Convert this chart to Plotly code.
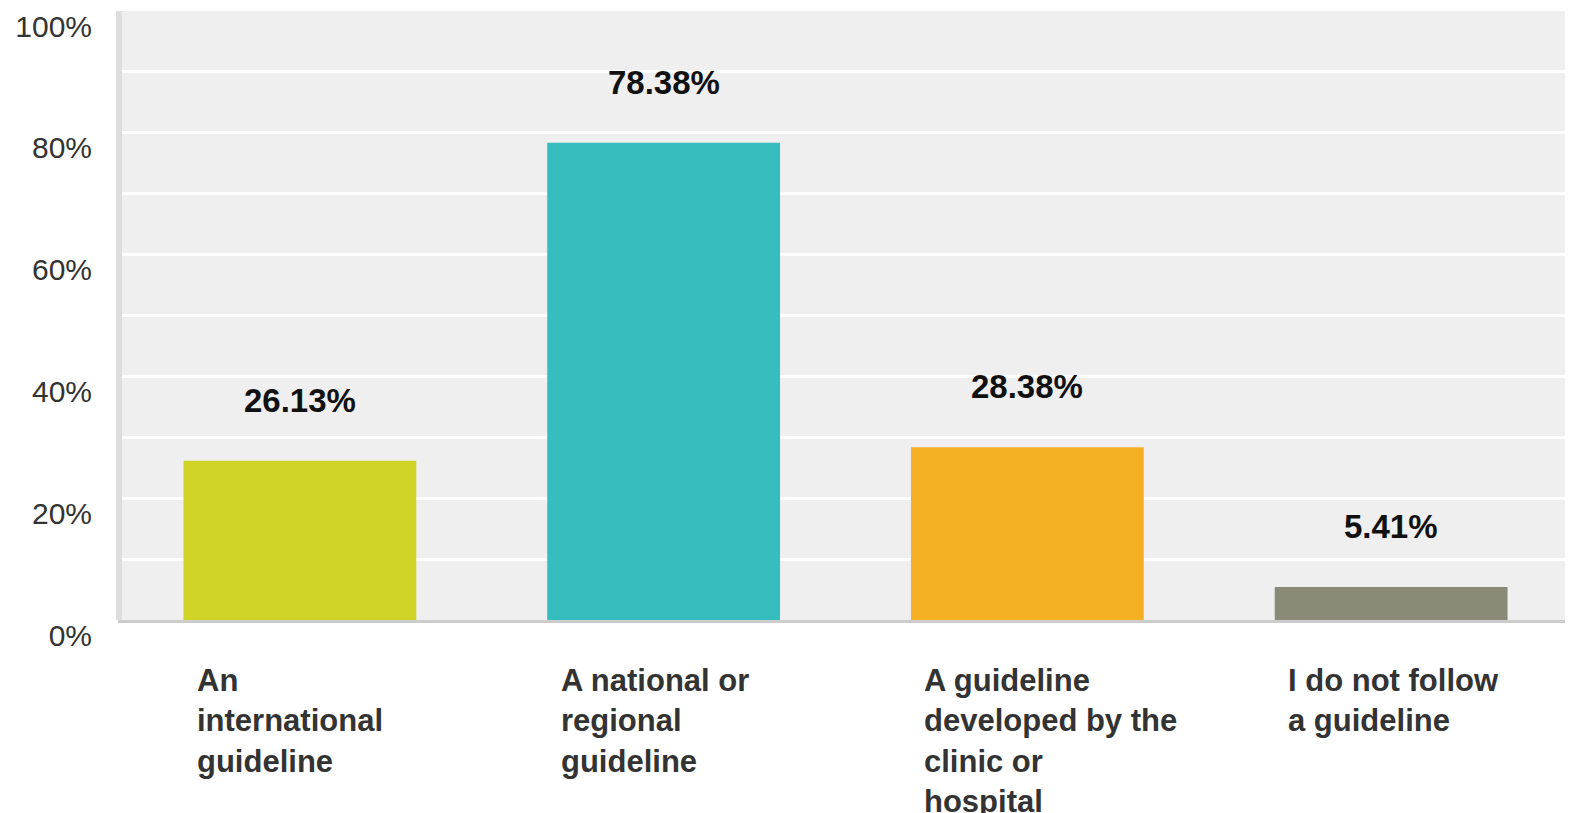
import plotly.graph_objects as go

categories = ["An<br>international<br>guideline",
              "A national or<br>regional<br>guideline",
              "A guideline<br>developed by the<br>clinic or<br>hospital",
              "I do not follow<br>a guideline"]
values = [26.13, 78.38, 28.38, 5.41]
value_labels = ["26.13%", "78.38%", "28.38%", "5.41%"]
bar_colors = ["#CFD426", "#35BDBF", "#F5AF22", "#8A8A78"]
y_ticks = [0, 20, 40, 60, 80, 100]
y_tick_labels = ["0%", "20%", "40%", "60%", "80%", "100%"]

xs = list(range(len(categories)))

fig = go.Figure()
fig.add_trace(go.Bar(x=xs, y=values, marker=dict(color=bar_colors, line=dict(width=0)),
                     width=0.64, hoverinfo="skip"))

for x, v, lab in zip(xs, values, value_labels):
    fig.add_annotation(x=x, y=v, xref="x", yref="y", text=f"<b>{lab}</b>",
                       showarrow=False, yanchor="bottom", yshift=40,
                       font=dict(family="Liberation Sans, Arial", size=33, color="#111111"))

for x, c in zip(xs, categories):
    fig.add_annotation(x=x, y=0, xref="x", yref="paper", text=f"<b>{c}</b>",
                       showarrow=False, xanchor="left", yanchor="top", align="left",
                       xshift=-105, yshift=-41,
                       font=dict(family="Liberation Sans, Arial", size=31, color="#333333"))

# left axis strip drawn at the plot's left edge
fig.add_shape(type="rect", xref="paper", yref="paper", xsizemode="pixel", xanchor=0,
              x0=-2, x1=4, y0=0, y1=1, fillcolor="#DEDEDE", line=dict(width=0), layer="above")

fig.update_layout(
    width=1565, height=805,
    margin=dict(l=110, r=0, t=3, b=193, autoexpand=False),
    paper_bgcolor="white", plot_bgcolor="#EFEFEF",
    showlegend=False,
    bargap=0.36,
)
fig.update_xaxes(range=[-0.5, 3.5], showticklabels=False, showgrid=False, zeroline=False,
                 showline=True, linecolor="#CCCCCC", linewidth=3, ticks="", automargin=False)
fig.update_yaxes(range=[0, 100], tickvals=y_ticks, ticktext=y_tick_labels,
                 showgrid=True, gridcolor="white", gridwidth=3, zeroline=False,
                 minor=dict(dtick=10, showgrid=True, gridcolor="white", gridwidth=3),
                 showline=False, ticks="",
                 ticklabelshift=15, ticklabelstandoff=25, ticklabeloverflow="allow",
                 automargin=False,
                 tickfont=dict(family="Liberation Sans, Arial", size=30, color="#333333"))

fig.write_html("out.html")
